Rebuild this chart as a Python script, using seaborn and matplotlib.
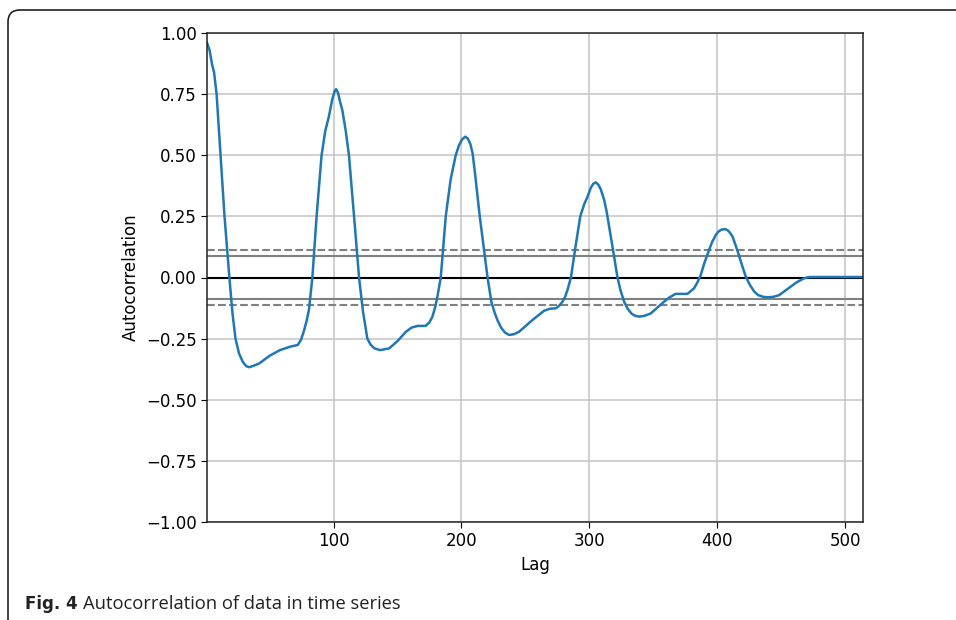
import numpy as np
import pandas as pd
import matplotlib
matplotlib.use("Agg")
import matplotlib.pyplot as plt
import seaborn as sns
from matplotlib.patches import FancyBboxPatch

plt.rcParams['font.family'] = ['DejaVu Sans']

# values
lags = [1, 3, 5, 6.5, 8.5, 11.6, 14.7, 18.5, 21, 23.3, 26, 29, 31.5, 34, 38, 42, 50, 58, 66,
        72, 74.5, 77, 79, 80.7, 83.4, 86.7, 90.6, 93.5, 96.3, 99, 101, 102, 103.5, 105, 106.8,
        109.5, 112, 116, 119.9, 123, 126.4, 129, 132, 136.4, 143.4, 150, 156.5, 161, 165.6,
        172, 175, 177.3, 179.5, 181.2, 183.8, 187.7, 191.5, 195.5, 198, 200.5, 203, 205, 207,
        208.7, 210.5, 212.6, 214.3, 220.4, 223.4, 226, 228.1, 231, 234, 237.2, 241, 245, 255.5,
        264.6, 269, 273.8, 276.5, 279, 281, 282.9, 285.6, 289, 292.9, 296, 298.6, 301, 303,
        305, 307, 309, 311.6, 313.5, 315.5, 319.4, 322, 324.5, 327.2, 330, 333, 336, 338.9,
        343, 348, 358.4, 363, 367.5, 376.7, 381.9, 384.5, 387.1, 390, 393.6, 396, 398.9, 401,
        403, 406, 408, 410, 412, 414.5, 417.3, 420, 422.4, 425.5, 429, 432, 436, 439.4, 444,
        448.5, 457.6, 462, 468, 472, 490, 514]
acf = [0.96, 0.93, 0.87, 0.84, 0.75, 0.5, 0.25, 0.0, -0.15, -0.25, -0.31, -0.345, -0.362,
       -0.367, -0.36, -0.351, -0.32, -0.297, -0.283, -0.276, -0.255, -0.215, -0.175, -0.133,
       0.0, 0.25, 0.5, 0.6, 0.658, 0.73, 0.765, 0.77, 0.755, 0.72, 0.685, 0.6, 0.5, 0.25, 0.0,
       -0.14, -0.25, -0.275, -0.29, -0.297, -0.29, -0.26, -0.222, -0.205, -0.198, -0.198,
       -0.183, -0.16, -0.12, -0.078, 0.0, 0.25, 0.4, 0.5, 0.54, 0.565, 0.576, 0.568, 0.545,
       0.508, 0.43, 0.331, 0.25, 0.0, -0.1, -0.145, -0.174, -0.205, -0.225, -0.235, -0.232,
       -0.222, -0.174, -0.136, -0.128, -0.126, -0.115, -0.099, -0.08, -0.051, 0.0, 0.12, 0.25,
       0.3, 0.331, 0.365, 0.383, 0.389, 0.38, 0.36, 0.317, 0.27, 0.208, 0.085, 0.0, -0.055,
       -0.099, -0.128, -0.148, -0.157, -0.16, -0.157, -0.147, -0.099, -0.08, -0.067, -0.067,
       -0.044, -0.02, 0.01, 0.06, 0.112, 0.145, 0.174, 0.188, 0.195, 0.198, 0.194, 0.183,
       0.167, 0.13, 0.085, 0.04, 0.003, -0.03, -0.058, -0.072, -0.079, -0.081, -0.079, -0.072,
       -0.037, -0.02, -0.003, 0.002, 0.002, 0.002]
n_obs = 514
yticks = [-1.0, -0.75, -0.5, -0.25, 0.0, 0.25, 0.5, 0.75, 1.0]
xticks = [100, 200, 300, 400, 500]

df = pd.DataFrame({"Lag": lags, "Autocorrelation": acf})

fig = plt.figure(figsize=(9.56, 6.2), dpi=100)
ax = fig.add_axes([207 / 956, 1 - 522 / 620, (863 - 207) / 956, (522 - 33) / 620])

# confidence bands like pandas autocorrelation_plot
z95, z99 = 1.959963984540054, 2.5758293035489
ax.axhline(z99 / np.sqrt(n_obs), linestyle="--", color="grey", lw=1.5)
ax.axhline(z95 / np.sqrt(n_obs), color="grey", lw=1.5)
ax.axhline(0.0, color="black", lw=1.5)
ax.axhline(-z95 / np.sqrt(n_obs), color="grey", lw=1.5)
ax.axhline(-z99 / np.sqrt(n_obs), linestyle="--", color="grey", lw=1.5)

sns.lineplot(data=df, x="Lag", y="Autocorrelation", ax=ax, color="#1f77b4", lw=1.8)

ax.set_xlim(1, n_obs)
ax.set_ylim(-1.0, 1.0)
ax.set_yticks(yticks)
ax.set_xticks(xticks)
ax.set_yticklabels([f"{t:.2f}".replace("-", "\u2212") for t in yticks])
ax.grid(True, color="#c4c4c4", lw=1.1)
ax.tick_params(labelsize=12, length=4)
ax.set_xlabel("Lag", fontsize=12)
ax.set_ylabel("Autocorrelation", fontsize=12)
for s in ax.spines.values():
    s.set_linewidth(1.1)
    s.set_color("#222222")

# frame around the figure, rounded top-left corner
frame = FancyBboxPatch((8, -60), 1100, 670, boxstyle="round,pad=0,rounding_size=12",
                       transform=None, fill=False, ec="#222222", lw=1.2, clip_on=False)
fig.patches.append(frame)

fig.text(25 / 956, 1 - 604 / 620, "Fig. 4", fontsize=12, fontweight="bold",
         family="DejaVu Sans", va="center", color="#222222")
fig.text(83 / 956, 1 - 604 / 620, "Autocorrelation of data in time series", fontsize=13.2,
         family="Open Sans", va="center", color="#222222")

fig.savefig("out.png", dpi=100)
